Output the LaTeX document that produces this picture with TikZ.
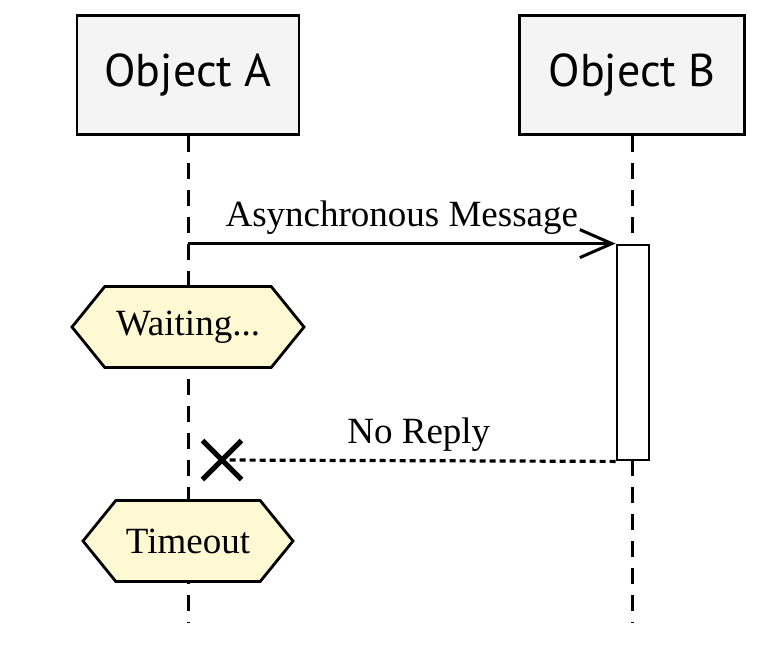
\documentclass[tikz,border=0pt]{standalone}
\usepackage{fontspec}
\setmainfont{Liberation Serif}
\newfontfamily\objfont{PT Sans}
\usetikzlibrary{shapes.symbols, shapes.misc, arrows.meta}
\definecolor{objGray}{HTML}{F4F4F4}
\definecolor{noteYellow}{HTML}{FEF9D3}

\begin{document}
\begin{tikzpicture}[x=1pt, y=-1pt]
	\tikzstyle{object} = [rectangle, minimum width=222pt, minimum height=119pt, 
	draw=black, line width=2.8pt, fill=objGray, font=\objfont\fontsize{46}{54}\selectfont]
	\tikzstyle{lifeline} = [line width=3pt, dash pattern=on 16pt off 11pt]
	\tikzstyle{state} = [signal, signal to=west and east, signal pointer angle=102, 
	minimum height=81pt, inner xsep=4pt, draw=black, line width=2.8pt, fill=noteYellow, 
	font=\fontsize{37}{42}\selectfont]
	\tikzstyle{activation} = [rectangle, minimum width=32pt, minimum height=215pt, 
	inner sep=0pt, draw=black, line width=2.8pt, fill=white]
	\tikzstyle{arrow} = [line width=3pt, -{Straight Barb[length=32pt, width=28pt]}]
	\tikzstyle{noreply} = [line width=3.2pt, dash pattern=on 6pt off 4pt]
	\tikzstyle{msgtext} = [font=\fontsize{37}{42}\selectfont, inner sep=8pt]
	\useasboundingbox (0,0) rectangle (760,649);
	\node (objA) [object] at (188,75) {Object A};
	\node (objB) [object, minimum width=225pt] at (632,75) {Object B};
	\coordinate (endA) at (188,622);
	\coordinate (endB) at (632,622);
	\draw [lifeline] (objA.south) -- (endA);
	\draw [lifeline] (objB.south) -- (endB);
	\node (act) [activation] at (633,352.5) {};
	\coordinate (sendA) at (objA |- act.north);
	\draw [arrow] (sendA) -- node [msgtext, above] {Asynchronous Message} (act.north west);
	\node (waiting) [state, minimum width=232pt] at (188,327) {Waiting...};
	\node (lost) [cross out, draw=black, line width=5pt, minimum size=34pt, inner sep=0pt] at (222,460) {};
	\draw [noreply] (act.south west) -- node [msgtext, above] {No Reply} (lost.center);
	\node (timeout) [state, minimum width=210pt] at (188,541) {Timeout};
\end{tikzpicture}
\end{document}
